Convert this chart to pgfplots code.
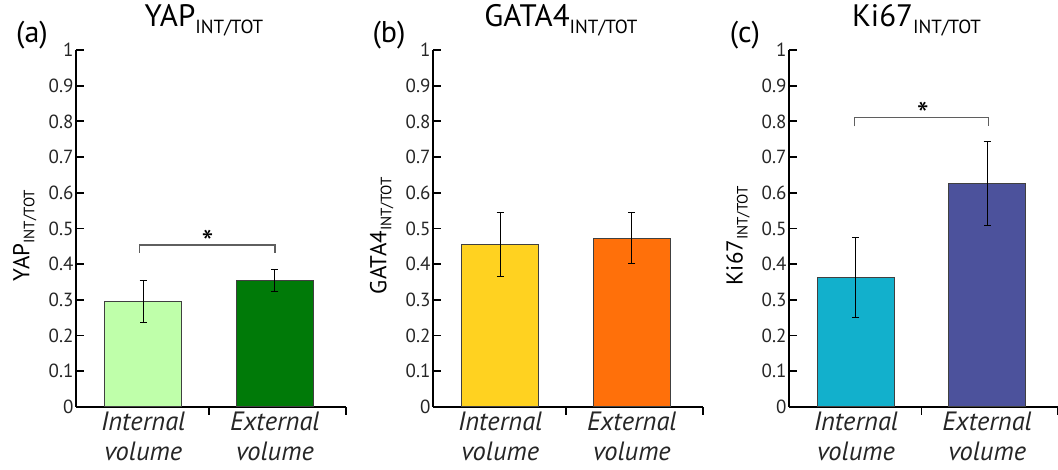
\documentclass[border=0pt]{standalone}
\usepackage{pgfplots}
\pgfplotsset{compat=1.18}
\usepackage{fontspec}
\setmainfont{PT Sans}
\definecolor{ca1}{RGB}{191,255,170}
\definecolor{ca2}{RGB}{0,122,8}
\definecolor{cb1}{RGB}{255,210,32}
\definecolor{cb2}{RGB}{255,112,10}
\definecolor{cc1}{RGB}{18,176,204}
\definecolor{cc2}{RGB}{76,82,156}
\definecolor{brk}{RGB}{95,95,95}
\newcommand{\tsub}[1]{\raisebox{-7pt}{\fontsize{19}{19}\selectfont #1}}
\newcommand{\ysub}[1]{\raisebox{-5pt}{\fontsize{15}{15}\selectfont #1}}
\pgfplotsset{
  panel/.style={
    scale only axis, width=270pt, height=357pt,
    anchor=south west,
    xmin=-0.51, xmax=1.54, ymin=0, ymax=1,
    axis x line*=bottom, axis y line*=left,
    axis line style={line width=2pt, black},
    tick align=inside,
    major tick length=8pt,
    tick style={line width=1.8pt, black},
    ytick={0,0.1,...,1.0},
    yticklabel style={/pgf/number format/fixed, /pgf/number format/precision=1, xshift=1pt},
    /pgf/number format/assume math mode=true,
    tick label style={font=\fontsize{19}{20}\selectfont, text=black!85},
    xtick={0.5,1.54}, xticklabels={,},
    extra x ticks={0,1},
    extra x tick labels={{Internal\\volume},{External\\volume}},
    extra x tick style={major tick length=0pt,
      tick label style={align=center, font=\fontsize{26.5}{30}\selectfont\itshape, text=black!85, yshift=-1pt}},
    ybar, bar width=77pt, bar shift=0pt,
    title style={at={(0.5,1)}, anchor=base, yshift=17pt, xshift=-7pt, font=\fontsize{31}{32}\selectfont},
    ylabel style={at={(axis description cs:-0.19,0.48)}, anchor=center, font=\fontsize{23}{24}\selectfont},
    clip=false,
  },
  barst/.style={draw=black!75, line width=1pt, fill=#1,
    error bars/.cd, y dir=both, y explicit,
    error bar style={black, line width=1pt},
    error mark options={rotate=90, mark size=3.5pt, line width=1pt, black}},
}
\begin{document}
\begin{tikzpicture}[x=1pt,y=1pt]
\useasboundingbox (0,-63) rectangle (1058,407);
% panel a
\begin{axis}[panel, at={(76pt,0pt)},
  title={YAP\tsub{INT/TOT}}, ylabel={YAP\ysub{INT/TOT}}]
\addplot[barst=ca1] coordinates {(0,0.295) +- (0,0.059)};
\addplot[barst=ca2] coordinates {(1,0.355) +- (0,0.031)};
\draw[brk, line width=1.3pt] (axis cs:-0.03,0.432) -- (axis cs:-0.03,0.454) -- (axis cs:1,0.454) -- (axis cs:1,0.432);
\node[font=\fontsize{34}{34}\selectfont] at (axis cs:0.49,0.462) {*};
\node[anchor=base, font=\fontsize{30}{30}\selectfont] at (axis description cs:0,1) [xshift=-44pt, yshift=7pt] {(a)};
\end{axis}
% panel b
\begin{axis}[panel, at={(433pt,0pt)},
  title={GATA4\tsub{INT/TOT}}, ylabel={GATA4\ysub{INT/TOT}}]
\addplot[barst=cb1] coordinates {(0,0.456) +- (0,0.09)};
\addplot[barst=cb2] coordinates {(1,0.473) +- (0,0.072)};
\node[anchor=base, font=\fontsize{30}{30}\selectfont] at (axis description cs:0,1) [xshift=-44pt, yshift=7pt] {(b)};
\end{axis}
% panel c
\begin{axis}[panel, at={(789pt,0pt)}, width=269pt,
  title={Ki67\tsub{INT/TOT}}, ylabel={Ki67\ysub{INT/TOT}}]
\addplot[barst=cc1] coordinates {(0,0.362) +- (0,0.112)};
\addplot[barst=cc2] coordinates {(1,0.626) +- (0,0.117)};
\draw[brk, line width=1.3pt] (axis cs:-0.01,0.786) -- (axis cs:-0.01,0.81) -- (axis cs:1.01,0.81) -- (axis cs:1.01,0.786);
\node[font=\fontsize{34}{34}\selectfont] at (axis cs:0.51,0.82) {*};
\node[anchor=base, font=\fontsize{30}{30}\selectfont] at (axis description cs:0,1) [xshift=-44pt, yshift=7pt] {(c)};
\end{axis}
\end{tikzpicture}
\end{document}
